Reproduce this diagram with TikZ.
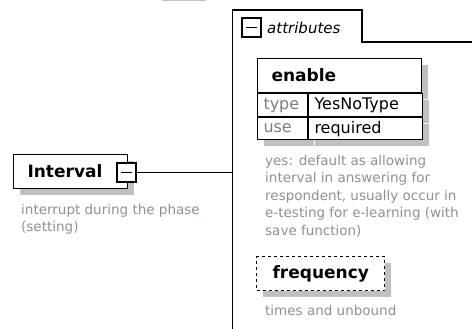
\documentclass[tikz,border=0pt]{standalone}
\usepackage{fontspec}
\setmainfont{DejaVu Sans}
\usetikzlibrary{shadows}

\definecolor{shadowgray}{RGB}{192,192,192}
\definecolor{notegray}{RGB}{150,142,135}
\definecolor{keygray}{RGB}{125,125,125}

\tikzset{
  boxshadow/.style={drop shadow={shadow xshift=6pt, shadow yshift=-6pt, fill=shadowgray, opacity=1}},
  elembox/.style={draw, line width=1.1pt, fill=white, boxshadow, anchor=north west,
    minimum height=34pt, inner ysep=0pt, align=left,
    font=\fontsize{17}{20}\selectfont\bfseries},
  minusbox/.style={draw, line width=1.6pt, fill=white, minimum size=19pt, inner sep=0pt,
    path picture={\draw[line width=1.2pt] ([xshift=4pt]path picture bounding box.west)
      -- ([xshift=-4pt]path picture bounding box.east);}},
  cellbox/.style={draw, line width=1pt, fill=white, boxshadow, anchor=north west,
    inner xsep=6pt, inner ysep=0pt, align=left, font=\fontsize{16}{18}\selectfont},
  note/.style={anchor=north west, inner sep=0pt, align=left, text=notegray,
    font=\fontsize{13.5}{17.5}\selectfont},
}

\begin{document}
\begin{tikzpicture}[x=1pt, y=-1pt]
            \useasboundingbox (0,0) rectangle (472,329);
            \fill[shadowgray] (162,0) rectangle (206,1.5);

            % attributes group
            \coordinate (grpTop) at (232.5,10);
            \coordinate (grpBottom) at (232.5,329);
            \coordinate (tabCorner) at (362,10);
            \coordinate (tabFoot) at (362,42);
            \coordinate (grpRight) at (472,42);
            \draw[line width=1.1pt] (grpRight) -- (tabFoot) -- (tabCorner) -- (grpTop) -- (grpBottom);
            \node[minusbox] (attrMinus) at (251.5,27.5) {};
            \node[anchor=west, inner sep=0pt, font=\fontsize{15}{18}\selectfont\itshape] (attrLabel) at (267,28) {attributes};

            % element
            \node[elembox, text width=86pt, inner xsep=14pt] (Interval) at (13,154) {Interval};
            \node[minusbox] (intervalMinus) at (126.5,172.5) {};
            \draw[line width=1.1pt] (intervalMinus.east) -- (intervalMinus.east -| grpTop);
            \node[note] (intervalNote) at (21,204) {interrupt during the phase\\(setting)};

            % enable
            \node[elembox, text width=136pt, inner xsep=14pt] (enable) at (257,58) {enable};
            \node[cellbox, text width=38pt, minimum height=23pt, text=keygray] (typeKey) at (enable.south west) {type};
            \node[cellbox, text width=102pt, minimum height=23pt] (typeVal) at (typeKey.north east) {YesNoType};
            \node[cellbox, text width=38pt, minimum height=22pt, text=keygray] (useKey) at (typeKey.south west) {use};
            \node[cellbox, text width=102pt, minimum height=22pt] (useVal) at (useKey.north east) {required};
            \node[note] (enableNote) at (265,155) {yes: default as allowing\\interval in answering for\\respondent, usually occur in\\e-testing for e-learning (with\\save function)};

            % frequency
            \node[elembox, dash pattern=on 3pt off 3pt, text width=96pt, inner xsep=16pt] (frequency) at (256,256) {frequency};
            \node[note] (frequencyNote) at (265,305) {times and unbound};
\end{tikzpicture}
\end{document}
